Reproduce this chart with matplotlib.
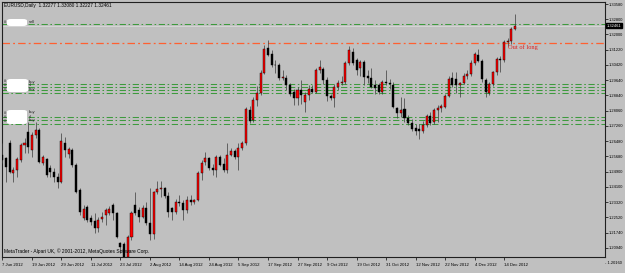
import numpy as np
import matplotlib
matplotlib.use('Agg')
import matplotlib.pyplot as plt
import matplotlib.transforms as mtransforms
from matplotlib.patches import FancyBboxPatch

# EURUSD daily, 7 Jun 2012 .. 19 Dec 2012 (one row per bar)
opens = [1.2576, 1.2560, 1.2638, 1.2482, 1.2498, 1.2550, 1.2627, 1.2695, 1.2600, 1.2679,
         1.2705, 1.2534, 1.2555, 1.2508, 1.2488, 1.2462, 1.2436,
         1.2638, 1.2580, 1.2601, 1.2524, 1.2394, 1.2250, 1.2306, 1.2249, 1.2234, 1.2197,
         1.2244, 1.2265, 1.2275, 1.2317, 1.2275, 1.2119, 1.2114, 1.2047, 1.2150, 1.2317,
         1.2291, 1.2254,
         1.2301, 1.2223, 1.2165, 1.2385, 1.2400, 1.2405, 1.2365, 1.2300, 1.2282, 1.2330,
         1.2327, 1.2291, 1.2345, 1.2332, 1.2340, 1.2480, 1.2540, 1.2560, 1.2510, 1.2500,
         1.2565, 1.2530, 1.2500,
         1.2575, 1.2596, 1.2565, 1.2610, 1.2638, 1.2809, 1.2757, 1.2861, 1.2897, 1.3001,
         1.3130, 1.3100, 1.3042, 1.3040, 1.2974, 1.2974, 1.2938, 1.2902, 1.2871, 1.2912,
         1.2850, 1.2886, 1.2917, 1.2902, 1.3016, 1.3021, 1.2964, 1.2881, 1.2871, 1.2928,
         1.2949, 1.2954, 1.3052, 1.3109, 1.3068, 1.3026, 1.3057, 1.2985, 1.2972, 1.2938,
         1.2938, 1.2902, 1.2954,
         1.2949, 1.2938, 1.2819, 1.2793, 1.2814, 1.2767, 1.2741, 1.2715, 1.2710, 1.2700,
         1.2731, 1.2778, 1.2746, 1.2809, 1.2819, 1.2824, 1.2881, 1.2974, 1.2969, 1.2938,
         1.2949, 1.2985,
         1.2995, 1.3052, 1.3094, 1.3063, 1.2964, 1.2897, 1.2943, 1.3005, 1.3073, 1.3068,
         1.3161, 1.3166, 1.32277]
highs = [1.2638, 1.2565, 1.2653, 1.2513, 1.2565, 1.2638, 1.2663, 1.2745, 1.2695, 1.2746,
         1.2715, 1.2576, 1.2560, 1.2524, 1.2508, 1.2482, 1.2689,
         1.2669, 1.2617, 1.2612, 1.2534, 1.2404, 1.2317, 1.2317, 1.2265, 1.2275, 1.2254,
         1.2280, 1.2301, 1.2311, 1.2327, 1.2280, 1.2125, 1.2125, 1.2161, 1.2285, 1.2384,
         1.2306, 1.2317,
         1.2332, 1.2405, 1.2390, 1.2443, 1.2443, 1.2410, 1.2385, 1.2306, 1.2350, 1.2370,
         1.2345, 1.2365, 1.2370, 1.2350, 1.2495, 1.2550, 1.2590, 1.2565, 1.2530, 1.2575,
         1.2575, 1.2560, 1.2637,
         1.2610, 1.2605, 1.2640, 1.2650, 1.2825, 1.2830, 1.2875, 1.2935, 1.3018, 1.3145,
         1.3172, 1.3120, 1.3068, 1.3052, 1.3016, 1.2990, 1.2950, 1.2917, 1.2928, 1.2964,
         1.2902, 1.2938, 1.2938, 1.3026, 1.3068, 1.3031, 1.2980, 1.2891, 1.2943, 1.2964,
         1.2985, 1.3063, 1.3140, 1.3130, 1.3078, 1.3068, 1.3068, 1.3016, 1.3026, 1.2964,
         1.2948, 1.2964, 1.3016,
         1.2969, 1.2954, 1.2824, 1.2876, 1.2871, 1.2783, 1.2762, 1.2736, 1.2736, 1.2752,
         1.2788, 1.2798, 1.2819, 1.2835, 1.2840, 1.2891, 1.2985, 1.3005, 1.3005, 1.2954,
         1.3000, 1.3016,
         1.3068, 1.3109, 1.3125, 1.3073, 1.2974, 1.2954, 1.3011, 1.3083, 1.3088, 1.3170,
         1.3180, 1.3240, 1.33080]
lows = [1.2534, 1.2436, 1.2482, 1.2436, 1.2462, 1.2540, 1.2585, 1.2585, 1.2565, 1.2663,
        1.2534, 1.2524, 1.2462, 1.2462, 1.2436, 1.2404, 1.2430,
        1.2565, 1.2560, 1.2513, 1.2379, 1.2265, 1.2239, 1.2228, 1.2213, 1.2171, 1.2177,
        1.2228, 1.2213, 1.2265, 1.2240, 1.2145, 1.2068, 1.2042, 1.2042, 1.2135, 1.2265,
        1.2228, 1.2249,
        1.2213, 1.2135, 1.2140, 1.2375, 1.2360, 1.2355, 1.2255, 1.2240, 1.2270, 1.2310,
        1.2240, 1.2275, 1.2315, 1.2320, 1.2335, 1.2445, 1.2525, 1.2500, 1.2470, 1.2463,
        1.2520, 1.2490, 1.2480,
        1.2570, 1.2555, 1.2500, 1.2600, 1.2630, 1.2740, 1.2745, 1.2830, 1.2887, 1.2995,
        1.3090, 1.3030, 1.3000, 1.2964, 1.2964, 1.2910, 1.2880, 1.2835, 1.2835, 1.2840,
        1.2800, 1.2860, 1.2895, 1.2897, 1.3000, 1.2943, 1.2855, 1.2860, 1.2825, 1.2912,
        1.2940, 1.2943, 1.3042, 1.3042, 1.2990, 1.2985, 1.2938, 1.2949, 1.2922, 1.2890,
        1.2891, 1.2891, 1.2938,
        1.2918, 1.2819, 1.2767, 1.2772, 1.2746, 1.2730, 1.2700, 1.2680, 1.2660, 1.2690,
        1.2720, 1.2731, 1.2736, 1.2746, 1.2800, 1.2819, 1.2876, 1.2928, 1.2897, 1.2876,
        1.2943, 1.2969,
        1.2985, 1.3042, 1.3057, 1.2953, 1.2877, 1.2887, 1.2933, 1.2990, 1.3005, 1.3055,
        1.3140, 1.3150, 1.32227]
closes = [1.2550, 1.2513, 1.2490, 1.2500, 1.2555, 1.2627, 1.2638, 1.2617, 1.2679, 1.2705,
          1.2539, 1.2565, 1.2472, 1.2488, 1.2462, 1.2436, 1.2648,
          1.2601, 1.2606, 1.2524, 1.2384, 1.2280, 1.2296, 1.2239, 1.2228, 1.2197, 1.2239,
          1.2254, 1.2291, 1.2296, 1.2275, 1.2150, 1.2099, 1.2047, 1.2150, 1.2275, 1.2275,
          1.2254, 1.2301,
          1.2223, 1.2165, 1.2385, 1.2400, 1.2405, 1.2365, 1.2280, 1.2282, 1.2330, 1.2327,
          1.2291, 1.2345, 1.2332, 1.2340, 1.2480, 1.2535, 1.2560, 1.2510, 1.2500, 1.2565,
          1.2524, 1.2497, 1.2575,
          1.2596, 1.2565, 1.2610, 1.2638, 1.2815, 1.2752, 1.2861, 1.2897, 1.3001, 1.3125,
          1.3095, 1.3042, 1.3040, 1.2974, 1.2980, 1.2938, 1.2891, 1.2871, 1.2912, 1.2886,
          1.2886, 1.2917, 1.2902, 1.3016, 1.3031, 1.2964, 1.2881, 1.2871, 1.2928, 1.2949,
          1.2954, 1.3052, 1.3119, 1.3052, 1.3016, 1.3057, 1.2980, 1.2972, 1.2928, 1.2922,
          1.2902, 1.2954, 1.2949,
          1.2943, 1.2824, 1.2793, 1.2809, 1.2767, 1.2741, 1.2710, 1.2700, 1.2700, 1.2731,
          1.2778, 1.2741, 1.2809, 1.2819, 1.2830, 1.2881, 1.2969, 1.2938, 1.2938, 1.2949,
          1.2985, 1.2995,
          1.3052, 1.3099, 1.3063, 1.2969, 1.2902, 1.2943, 1.3005, 1.3073, 1.3068, 1.3161,
          1.3166, 1.3228, 1.32461]

date_labels = ['7 Jun 2012', '19 Jun 2012', '29 Jun 2012', '11 Jul 2012', '23 Jul 2012',
               '2 Aug 2012', '14 Aug 2012', '24 Aug 2012', '5 Sep 2012', '17 Sep 2012',
               '27 Sep 2012', '9 Oct 2012', '19 Oct 2012', '31 Oct 2012', '12 Nov 2012',
               '22 Nov 2012', '4 Dec 2012', '14 Dec 2012']
label_step = 8  # one date label every 8 bars

price_ticks = [1.20160, 1.20940, 1.21740, 1.22520, 1.23320, 1.24100, 1.24900, 1.25680,
               1.26480, 1.27260, 1.28060, 1.28840, 1.29640, 1.30420, 1.31220, 1.32000,
               1.32800, 1.33580]

sell_level = 1.32544
exit_level = 1.31540
buy_levels_a = [1.29430, 1.29275, 1.29120, 1.28965]
buy_levels_b = [1.27720, 1.27565, 1.27360]
bid = 1.32461

BG = '#c0c0c0'
W, H = 625, 273
fig = plt.figure(figsize=(W / 100, H / 100), dpi=100, facecolor=BG)
ax = fig.add_axes([2 / W, 16 / H, 603 / W, 255 / H], facecolor=BG)

o = np.array(opens); h = np.array(highs); l = np.array(lows); c = np.array(closes)
x = np.arange(len(o))
up = c >= o

# candles: wicks, then bodies (red = up, black = down)
ax.vlines(x, l, h, color='#3a3a3a', lw=0.5, zorder=3)
ax.bar(x, np.abs(c - o), bottom=np.minimum(o, c), width=0.55,
       color=np.where(up, '#ff0000', '#000000'), edgecolor='#000000', lw=0.3, zorder=4)

# order / level lines
dash = dict(dashes=(6, 2.5, 1.5, 2.5), zorder=2)
ax.axhline(sell_level, color='#3d9a3d', lw=0.75, **dash)
ax.axhline(exit_level, color='#ff6030', lw=0.9, **dash)
for lv in buy_levels_a + buy_levels_b:
    ax.axhline(lv, color='#3d9a3d', lw=0.75, **dash)
ax.axhline(bid, color='#d8d8d8', lw=0.6, zorder=1)

ymin = 1.2016 + 6 * 0.00051815
ymax = 1.2016 + 261 * 0.00051815
ax.set_ylim(ymin, ymax)
ax.set_xlim(-0.1, 163.35)

# price scale on the right
ax.yaxis.tick_right()
ax.set_yticks([t for t in price_ticks if t > ymin])
ax.set_yticklabels(['%.5f' % t for t in price_ticks if t > ymin])
ax.tick_params(axis='y', direction='out', length=2, width=0.5, pad=1,
               labelsize=2.9, colors='#000000')
for t in ax.get_yticklabels():
    t.set_fontfamily('Liberation Sans')
blend_y = mtransforms.blended_transform_factory(ax.transAxes, ax.transData)
ax.text(1.0, price_ticks[0], '- %.5f' % price_ticks[0], transform=blend_y,
        fontsize=2.9, family='Liberation Sans', va='center', ha='left', clip_on=False)
ax.text(1.003, bid, '%.5f' % bid, transform=blend_y, fontsize=2.9,
        family='Liberation Sans', color='white', va='center', ha='left', clip_on=False,
        bbox=dict(boxstyle='square,pad=0.15', fc='black', ec='black'), zorder=10)

# time scale
pos = [i * label_step for i in range(len(date_labels))]
ax.set_xticks(pos)
ax.set_xticklabels(date_labels)
ax.tick_params(axis='x', direction='out', length=2, width=0.5, pad=2.2, labelsize=3.1)
for t in ax.get_xticklabels():
    t.set_ha('left')
    t.set_fontfamily('Liberation Sans')

for s in ax.spines.values():
    s.set_color('#202020')
    s.set_linewidth(0.8)

fig.text(4 / W, 1 - 5 / H, 'EURUSD,Daily  1.32277 1.33080 1.32227 1.32461',
         fontsize=3.4, family='Liberation Sans', va='center', ha='left')
fig.text(4 / W, 1 - 251 / H, 'MetaTrader - Alpari UK, \u00a9 2001-2012, MetaQuotes Software Corp.',
         fontsize=3.5, family='Liberation Sans', va='center', ha='left')
ax.text(137, exit_level - 0.0018, 'Out of long', color='#e02020', fontsize=4.6,
        family='Liberation Serif', va='center', ha='left', zorder=6)


# order labels at the left (ticket numbers blanked out by white blobs)
def blank(x0, y0, w, hgt):
    fig.patches.append(FancyBboxPatch((x0 / W, 1 - (y0 + hgt) / H), w / W, hgt / H,
                                      boxstyle='round,pad=0,rounding_size=0.006',
                                      transform=fig.transFigure, fc='white', ec='none',
                                      zorder=8, figure=fig))


def tag(px, py, s):
    fig.text(px / W, 1 - py / H, s, fontsize=3, family='Liberation Sans',
             va='center', ha='left', color='#202020')


tag(4, 22, '#')
blank(7, 19, 20, 7)
tag(29, 22, 'sell')
for py in (81.5, 85.5, 89.5):
    tag(4, py, '#')
for py, s in ((81.5, 'buy'), (85.5, 'sl'), (89.5, 'buy')):
    tag(29, py, s)
blank(7, 79, 21, 13)
for py in (112.5, 116.5, 120.5):
    tag(4, py, '#')
for py, s in ((112.5, 'buy'), (116.5, 'sl'), (120.5, 'buy')):
    tag(29, py, s)
blank(7, 110, 20, 14)

fig.savefig('out.png', dpi=100, facecolor=BG)
